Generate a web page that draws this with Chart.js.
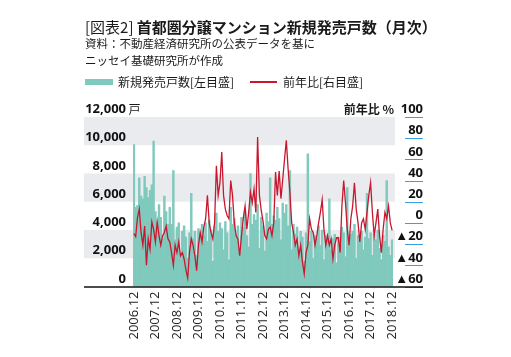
<!DOCTYPE html>
<html lang="ja">
<head>
<meta charset="utf-8">
<script src="https://cdn.jsdelivr.net/npm/chart.js@4.4.1/dist/chart.umd.min.js"></script>
<style>
  html, body { margin:0; padding:0; background:#fff; }
  #wrap { position:relative; width:511px; height:357px; overflow:hidden; font-family:"Noto Sans CJK JP","Noto Sans",sans-serif; color:#1a1a1a; }
  #c { position:absolute; left:0; top:0; }
  .title { position:absolute; left:85px; top:18px; font-size:15px; line-height:17px; white-space:nowrap; }
  .title .lt { font-weight:400; }
  .title .bd { font-weight:700; }
  .note { position:absolute; left:85px; top:35px; font-size:11.5px; line-height:16.7px; white-space:nowrap; }
  .leg { position:absolute; top:74px; height:16px; font-size:12px; line-height:16px; white-space:nowrap; }
  .sw { position:absolute; }
</style>
</head>
<body>
<div id="wrap">
  <canvas id="c" width="511" height="357"></canvas>
  <div class="title"><span class="lt">[図表2] </span><span class="bd">首都圏分譲マンション新規発売戸数（月次）</span></div>
  <div class="note">資料：不動産経済研究所の公表データを基に<br>ニッセイ基礎研究所が作成</div>
  <div class="sw" style="left:85px; top:78.5px; width:28px; height:6.5px; background:#80c9bd;"></div>
  <div class="leg" style="left:118px;" id="leg1"></div>
  <div class="sw" style="left:250px; top:80.5px; width:27px; height:2px; background:#c8172e;"></div>
  <div class="leg" style="left:283px;" id="leg2"></div>
</div>
<script>
// ---- data ----
const seriesNames = ['新規発売戸数[左目盛]', '前年比[右目盛]'];
const startYear = 2006, startMonth = 12, monthCount = 145;
const months = [];
for (let k = 0; k < monthCount; k++) {
  const m = (startMonth - 1 + k) % 12 + 1;
  const y = startYear + Math.floor((startMonth - 1 + k) / 12);
  months.push(y + '.' + String(m).padStart(2, '0'));
}
const xTickLabels = ['2006.12','2007.12','2008.12','2009.12','2010.12','2011.12','2012.12','2013.12','2014.12','2015.12','2016.12','2017.12','2018.12'];
const leftTickLabels = ['0','2,000','4,000','6,000','8,000','10,000','12,000'];
const rightTickLabels = ['▲60','▲40','▲20','0','20','40','60','80','100'];

// 発売戸数 (戸)
const units = [
  10050,
  5600,5750,7700,6400,6200,7800,7000,6300,6800,7200,10300,5300,
  4600,5800,4900,3400,6400,5300,4400,5600,4400,8200,3300,4200,
  4500,2300,3900,4300,3500,2000,3800,6600,3400,3900,2200,4100,
  3800,4400,3600,4500,3200,4700,4000,1800,4300,5200,3900,4500,
  4100,2600,4600,3800,1900,5600,4400,4800,3700,4300,2400,4900,
  4200,5400,3600,2800,8000,4400,5100,4700,5800,2700,4900,4300,
  2500,5200,4600,7700,4400,5000,4700,5600,4800,3300,5900,5200,
  5800,4300,8200,2600,4400,3700,4200,2300,3900,3500,1800,3800,
  9400,3200,3900,2000,3600,3400,4300,2900,4000,1900,3600,3300,
  6200,2600,3400,3700,1700,3500,3200,4200,3800,2100,7000,3000,
  3700,3900,4400,2000,3600,3200,3900,2600,3500,6600,3400,3800,
  2200,3700,3300,4000,2700,1900,3600,3200,7500,2800,2200,3300
];
// 前年比 (%)
const yoy = [
  -10,-13,5,13,-9,-21,-3,-40,-15,-25,1,-6,-18,
  1,-12,-21,-12,-9,-3,-15,-18,-28,-40,-21,-28,-18,-31,-28,-34,-44,-52,
  -28,-15,-21,-31,-45,-21,-9,-18,-4,4,26,0,-9,-15,0,54,26,38,67,26,13,7,4,40,26,0,-12,-15,-31,-12,4,16,-6,10,29,19,32,10,81,26,12,
  2,-12,-15,-6,-4,-12,0,48,26,49,
  23,41,60,78,51,29,0,-9,-21,-15,
  -31,-21,-37,-48,-28,-21,4,-6,-9,-21,
  -12,0,10,22,-6,-21,-12,-21,-15,-34,
  -21,-14,-14,-28,16,40,19,-6,-21,4,
  16,38,13,0,-18,0,4,-6,10,26,
  38,10,-12,0,13,-12,-28,-6,10,4,
  16,0,-7
];

document.getElementById('leg1').textContent = seriesNames[0];
document.getElementById('leg2').textContent = seriesNames[1];

const BAND = '#e9ebee';
const bandPlugin = {
  id: 'bands',
  beforeDraw(chart) {
    const { ctx, chartArea, scales } = chart;
    const y = scales.y;
    ctx.save();
    ctx.fillStyle = BAND;
    const ticks = y.ticks.map(t => t.value);
    for (let k = ticks.length - 1; k > 0; k -= 2) {
      const top = y.getPixelForValue(ticks[k]);
      const bot = y.getPixelForValue(ticks[k - 1]);
      ctx.fillRect(84, top, chartArea.right + 2 - 84, bot - top);
    }
    ctx.restore();
  },
  afterDraw(chart) {
    const { ctx, scales } = chart;
    ctx.save();
    ctx.strokeStyle = '#3d9fdb';
    ctx.lineWidth = 1;
    scales.y1.ticks.forEach(t => {
      const py = Math.round(scales.y1.getPixelForValue(t.value)) + 0.5;
      ctx.beginPath(); ctx.moveTo(405, py); ctx.lineTo(423, py); ctx.stroke();
    });
    ctx.strokeStyle = '#111';
    ctx.lineWidth = 1.5;
    const by = scales.y.getPixelForValue(0) + 0.5;
    ctx.beginPath(); ctx.moveTo(84, by); ctx.lineTo(423, by); ctx.stroke();
    const topY = scales.y.getPixelForValue(12000) - 7.5;
    ctx.fillStyle = '#1a1a1a';
    ctx.textBaseline = 'middle';
    ctx.textAlign = 'left';
    ctx.font = '400 12px "Noto Sans CJK JP"';
    ctx.fillText('戸', 128.5, topY);
    ctx.textAlign = 'right';
    ctx.font = '700 12px "Noto Sans CJK JP"';
    ctx.fillText('前年比 %', 394, topY);
    ctx.restore();
  }
};

new Chart(document.getElementById('c'), {
  data: {
    labels: months,
    datasets: [
      {
        type: 'line', label: seriesNames[1], data: yoy, yAxisID: 'y1', order: 0,
        borderColor: '#c8172e', borderWidth: 1.3, pointRadius: 0, tension: 0, fill: false
      },
      {
        type: 'bar', label: seriesNames[0], data: units, yAxisID: 'y', order: 1,
        backgroundColor: '#80c9bd', borderWidth: 0, barPercentage: 1, categoryPercentage: 1
      }
    ]
  },
  options: {
    responsive: false,
    animation: false,
    devicePixelRatio: 1,
    layout: { padding: { left: 84, right: 88, top: 117, bottom: 14.5 } },
    plugins: { legend: { display: false }, tooltip: { enabled: false } },
    scales: {
      x: {
        type: 'category',
        grid: { display: false, drawTicks: false },
        border: { display: false },
        ticks: {
          autoSkip: false, minRotation: 90, maxRotation: 90, padding: 5,
          color: '#222', font: { family: '"Open Sans"', size: 13, weight: '500' },
          callback: function (v, i) { const l = months[i]; return xTickLabels.includes(l) ? l : null; }
        },
        afterFit(s) { s.height = 56; }
      },
      y: {
        position: 'left', min: 0, max: 12000,
        grid: { display: false, drawTicks: false },
        border: { display: false },
        ticks: {
          stepSize: 2000, padding: 7, labelOffset: -7.5,
          color: '#111', font: { family: '"Open Sans"', size: 13, weight: '700' },
          callback: function (v, i) { return leftTickLabels[i]; }
        },
        afterFit(s) { s.width = 49; }
      },
      y1: {
        position: 'right', min: -60, max: 100,
        grid: { display: false, drawTicks: false },
        border: { display: false },
        ticks: {
          stepSize: 20, padding: 0, labelOffset: -7.5, crossAlign: 'far',
          color: '#111', font: { family: '"Open Sans"', size: 13, weight: '700' },
          callback: function (v, i) { return rightTickLabels[i]; }
        },
        afterFit(s) { s.width = 30; }
      }
    }
  },
  plugins: [bandPlugin]
});
</script>
</body>
</html>
